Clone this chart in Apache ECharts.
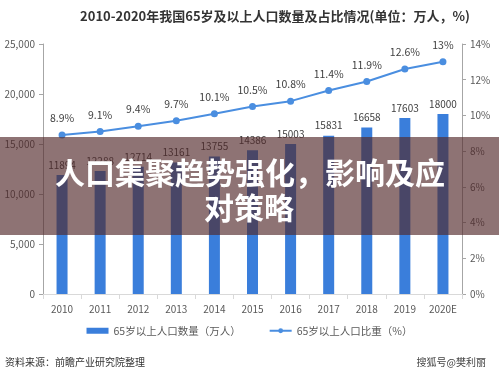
<!DOCTYPE html>
<html><head><meta charset="utf-8">
<script src="https://cdn.jsdelivr.net/npm/echarts@6/dist/echarts.min.js"></script>
<style>html,body{margin:0;padding:0;background:#fff}#c{width:499px;height:374px}</style>
</head><body><div id="c"></div>
<script>
const categories = ['2010','2011','2012','2013','2014','2015','2016','2017','2018','2019','2020E'];
const populationValues = [11894, 12288, 12714, 13161, 13755, 14386, 15003, 15831, 16658, 17603, 18000];
const shareValues = [8.9, 9.1, 9.4, 9.7, 10.1, 10.5, 10.8, 11.4, 11.9, 12.6, 13];
const leftTicks = {min: 0, max: 25000, interval: 5000};
const rightTicks = {min: 0, max: 14, interval: 2};
const titleText = '2010-2020年我国65岁及以上人口数量及占比情况(单位：万人，%)';
const barName = '65岁以上人口数量（万人）';
const lineName = '65岁以上人口比重（%）';
const bannerLines = ['人口集聚趋势强化，影响及应', '对策略'];
const sourceText = '资料来源：前瞻产业研究院整理';
const credit = '搜狐号@樊利丽';

const FONT = '"Noto Sans CJK SC", "Noto Sans", sans-serif';
const chart = echarts.init(document.getElementById('c'));
chart.setOption({
  animation: false,
  textStyle: {fontFamily: FONT},
  title: {text: titleText, left: 270, textAlign: 'center', top: 5,
    textStyle: {fontSize: 13, fontWeight: 'bold', color: '#333', fontFamily: FONT}},
  legend: {
    bottom: 33, left: 'center', itemGap: 28, itemWidth: 22, itemHeight: 6,
    textStyle: {fontSize: 10.5, color: '#595959', fontFamily: FONT},
    data: [{name: barName, icon: 'rect'}, {name: lineName}]
  },
  grid: {left: 43, right: 37, top: 44, bottom: 80},
  xAxis: {
    type: 'category', data: categories,
    axisLine: {lineStyle: {color: '#d9d9d9'}},
    axisTick: {show: true, lineStyle: {color: '#d9d9d9'}},
    axisLabel: {fontSize: 10, color: '#595959', margin: 10, fontFamily: FONT}
  },
  yAxis: [
    {type: 'value', min: leftTicks.min, max: leftTicks.max, interval: leftTicks.interval,
      axisLine: {show: true, lineStyle: {color: '#a6a6a6'}},
      axisTick: {show: true, length: 4, lineStyle: {color: '#a6a6a6'}},
      splitLine: {show: false},
      axisLabel: {fontSize: 10, color: '#595959', margin: 8, fontFamily: FONT}},
    {type: 'value', min: rightTicks.min, max: rightTicks.max, interval: rightTicks.interval,
      axisLine: {show: true, lineStyle: {color: '#a6a6a6'}},
      axisTick: {show: true, length: 4, lineStyle: {color: '#a6a6a6'}},
      splitLine: {show: false},
      axisLabel: {fontSize: 10, color: '#595959', margin: 8, formatter: '{value}%', fontFamily: FONT}}
  ],
  series: [
    {name: barName, type: 'bar', data: populationValues, barWidth: 11, yAxisIndex: 0,
      itemStyle: {color: '#3a7edb'},
      label: {show: true, position: 'top', distance: 5, fontSize: 10, color: '#404040', fontFamily: FONT}},
    {name: lineName, type: 'line', data: shareValues, yAxisIndex: 1,
      symbol: 'circle', symbolSize: 7,
      lineStyle: {color: '#4a8ee0', width: 2}, itemStyle: {color: '#4a8ee0'},
      label: {show: true, position: 'top', distance: 8, fontSize: 10.5, color: '#404040',
        formatter: p => p.value + '%', fontFamily: FONT}}
  ],
  graphic: [
    {type: 'rect', left: 0, top: 137, shape: {width: 499, height: 98}, z: 100,
      style: {fill: 'rgba(82,40,42,0.65)'}},
    {type: 'text', x: 250, y: 173, z: 101,
      style: {text: bannerLines[0], fill: '#fff', font: 'bold 30px ' + FONT, align: 'center', verticalAlign: 'middle'}},
    {type: 'text', x: 249, y: 208, z: 101,
      style: {text: bannerLines[1], fill: '#fff', font: 'bold 30px ' + FONT, align: 'center', verticalAlign: 'middle'}},
    {type: 'text', x: 5, y: 362, z: 101,
      style: {text: sourceText, fill: '#333', font: '10px ' + FONT, verticalAlign: 'middle'}},
    {type: 'text', x: 486, y: 362, z: 101,
      style: {text: credit, fill: '#444', font: '10px ' + FONT, align: 'right', verticalAlign: 'middle'}}
  ]
});
</script></body></html>
